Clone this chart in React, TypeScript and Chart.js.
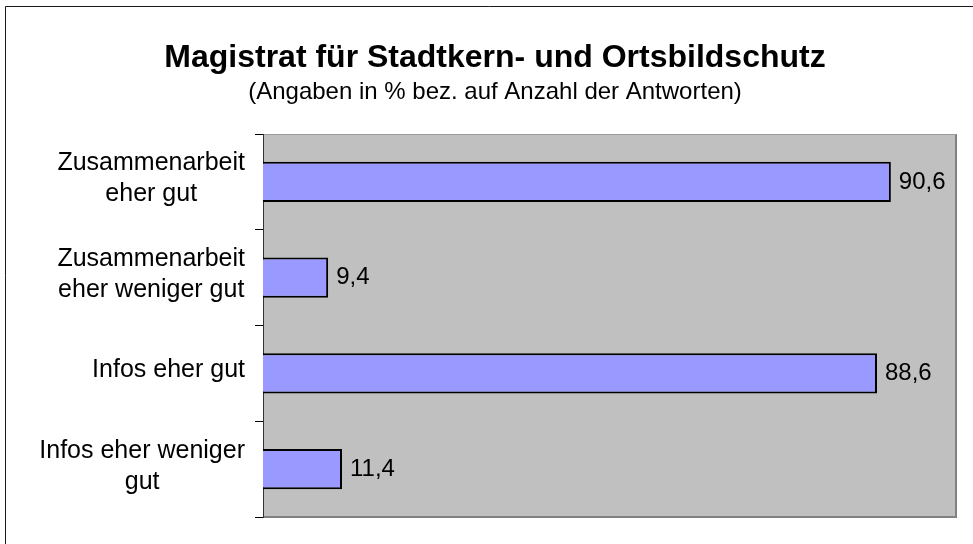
import React, { useEffect, useRef } from "react";
import { Chart, registerables } from "chart.js";

Chart.register(...registerables);

const TITLE = "Magistrat für Stadtkern- und Ortsbildschutz";
const SUBTITLE = "(Angaben in % bez. auf Anzahl der Antworten)";
const CATEGORIES: string[][] = [
  ["Zusammenarbeit", "eher gut"],
  ["Zusammenarbeit", "eher weniger gut"],
  ["Infos eher gut"],
  ["Infos eher weniger", "gut"],
];
const VALUES: number[] = [90.6, 9.4, 88.6, 11.4];
const X_MIN = 0;
const X_MAX = 100;

const FONT = '"Liberation Sans", Arial, Helvetica, sans-serif';
const W = 973;
const H = 544;

const fmt = (v: number) => v.toFixed(1).replace(".", ",");

const framePlugin = {
  id: "frame",
  beforeDraw(chart: any) {
    const { ctx, chartArea: a } = chart;
    ctx.save();
    ctx.fillStyle = "#ffffff";
    ctx.fillRect(0, 0, chart.width, chart.height);
    ctx.fillStyle = "#C0C0C0";
    ctx.fillRect(a.left, a.top, a.right - a.left, a.bottom - a.top);
    // outer frame
    ctx.strokeStyle = "#1a1a1a";
    ctx.lineWidth = 1;
    ctx.beginPath();
    ctx.moveTo(5.5, chart.height + 5);
    ctx.lineTo(5.5, 6.5);
    ctx.lineTo(chart.width + 5, 6.5);
    ctx.stroke();
    // plot area border
    ctx.strokeStyle = "#808080";
    ctx.lineWidth = 2;
    ctx.beginPath();
    ctx.moveTo(a.left, a.bottom);
    ctx.lineTo(a.right, a.bottom);
    ctx.lineTo(a.right, a.top);
    ctx.stroke();
    ctx.lineWidth = 1;
    ctx.strokeStyle = "#9a9a9a";
    ctx.beginPath();
    ctx.moveTo(a.left, a.top + 0.5);
    ctx.lineTo(a.right, a.top + 0.5);
    ctx.stroke();
    ctx.restore();
  },
  afterDraw(chart: any) {
    const { ctx } = chart;
    ctx.save();
    ctx.fillStyle = "#000";
    ctx.textAlign = "center";
    ctx.textBaseline = "alphabetic";
    ctx.font = `bold 32px ${FONT}`;
    ctx.fillText(TITLE, 495, 67);
    ctx.font = `24px ${FONT}`;
    ctx.fillText(SUBTITLE, 495, 99);

    // category labels
    const yScale = chart.scales.y;
    ctx.font = `25px ${FONT}`;
    ctx.textBaseline = "middle";
    const rightEdge = 245;
    const lh = 31;
    CATEGORIES.forEach((lines, i) => {
      const cy = yScale.getPixelForTick(i) - 3;
      const wMax = Math.max(...lines.map((l) => ctx.measureText(l).width));
      const cx = rightEdge - wMax / 2;
      lines.forEach((line, j) => {
        const y = cy + (j - (lines.length - 1) / 2) * lh;
        ctx.fillText(line, cx, y);
      });
    });
    ctx.restore();
  },
  afterDatasetsDraw(chart: any) {
    const { ctx } = chart;
    const meta = chart.getDatasetMeta(0);
    ctx.save();
    ctx.fillStyle = "#000";
    ctx.font = `24px ${FONT}`;
    ctx.textAlign = "left";
    ctx.textBaseline = "middle";
    meta.data.forEach((bar: any, i: number) => {
      ctx.fillText(fmt(VALUES[i]), bar.x + 8, bar.y);
    });
    ctx.restore();
  },
};

export default function App() {
  const ref = useRef<HTMLCanvasElement | null>(null);
  useEffect(() => {
    if (!ref.current) return;
    const chart = new Chart(ref.current, {
      type: "bar",
      data: {
        labels: CATEGORIES,
        datasets: [
          {
            data: VALUES,
            backgroundColor: "#9999FF",
            borderColor: "#000000",
            borderWidth: 2,
            barPercentage: 0.42,
            categoryPercentage: 1,
          },
        ],
      },
      options: {
        indexAxis: "y",
        animation: false,
        responsive: false,
        devicePixelRatio: 1,
        layout: { padding: { left: 0, top: 134, right: 17, bottom: 27 } },
        plugins: {
          legend: { display: false },
          title: { display: false },
          tooltip: { enabled: false },
        },
        scales: {
          x: { min: X_MIN, max: X_MAX, display: false },
          y: {
            type: "category",
            offset: true,
            afterFit: (scale: any) => {
              scale.width = 263;
            },
            border: { display: true, color: "#333333", width: 1 },
            grid: {
              display: true,
              offset: true,
              drawOnChartArea: false,
              drawTicks: true,
              tickLength: 8,
              color: "#000000",
            },
            ticks: { display: false },
          },
        },
      },
      plugins: [framePlugin],
    });
    return () => chart.destroy();
  }, []);
  return (
    <div style={{ position: "absolute", left: 0, top: 0, width: W, height: H, background: "#fff" }}>
      <canvas ref={ref} width={W} height={H} style={{ width: W, height: H, display: "block" }} />
    </div>
  );
}
